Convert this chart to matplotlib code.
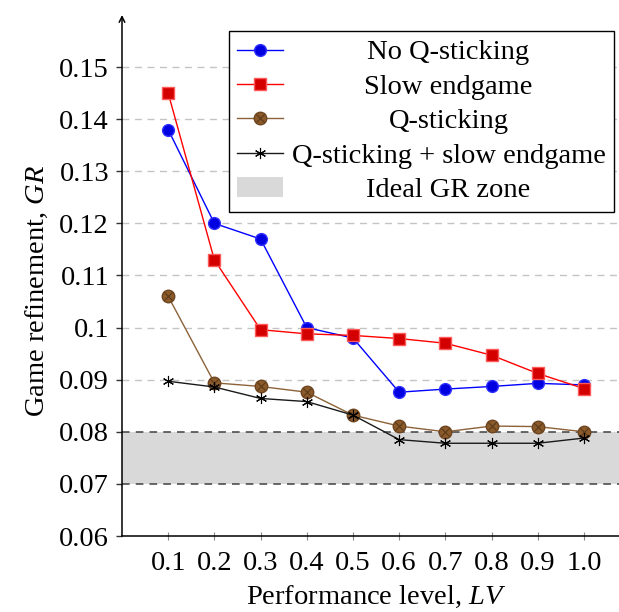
import matplotlib
matplotlib.use("Agg")
import matplotlib.pyplot as plt
from matplotlib.legend_handler import HandlerTuple
from matplotlib.patches import Patch

plt.rcParams['font.family'] = ['Liberation Serif', 'DejaVu Serif']
plt.rcParams['mathtext.fontset'] = 'custom'
plt.rcParams['mathtext.rm'] = 'Liberation Serif'
plt.rcParams['mathtext.it'] = 'Liberation Serif:italic'

# data
levels = [0.1, 0.2, 0.3, 0.4, 0.5, 0.6, 0.7, 0.8, 0.9, 1.0]
no_qstick = [0.138, 0.120, 0.117, 0.100, 0.098, 0.0876, 0.0882, 0.0887, 0.0893, 0.0890]
slow_end = [0.145, 0.113, 0.0996, 0.0988, 0.0985, 0.0979, 0.0970, 0.0947, 0.0912, 0.0883]
qstick = [0.106, 0.0894, 0.0887, 0.0876, 0.0832, 0.0811, 0.0800, 0.0811, 0.0810, 0.0800]
qstick_slow = [0.0897, 0.0886, 0.0864, 0.0858, 0.0832, 0.0785, 0.0778, 0.0778, 0.0778, 0.0788]
ideal_low, ideal_high = 0.07, 0.08

yticks = [0.06, 0.07, 0.08, 0.09, 0.10, 0.11, 0.12, 0.13, 0.14, 0.15]
ytick_labels = ['0.06', '0.07', '0.08', '0.09', '0.1', '0.11', '0.12', '0.13', '0.14', '0.15']
xtick_labels = ['0.1', '0.2', '0.3', '0.4', '0.5', '0.6', '0.7', '0.8', '0.9', '1.0']

fs = 20.5
W, H = 619, 612
fig = plt.figure(figsize=(W / 100, H / 100), dpi=100)
ax = fig.add_axes([122 / W, 76 / H, 497 / W, 521 / H])
ax.set_xlim(0, 1.076)
ax.set_ylim(0.06, 0.16)

# ideal zone band and grid
ax.axhspan(ideal_low, ideal_high, color='#d9d9d9', lw=0, zorder=0)
for y in yticks[3:]:
    ax.axhline(y, color='#c4c4c4', lw=1, ls=(0, (5, 4)), zorder=1)
for y in (ideal_low, ideal_high):
    ax.axhline(y, color='#404040', lw=1.1, ls=(0, (5, 4)), zorder=1)

blue, = ax.plot(levels, no_qstick, color='blue', lw=1, marker='o', ms=8.5,
                mfc='#0000e0', mec='#3030ff', zorder=3)
red, = ax.plot(levels, slow_end, color='red', lw=1, marker='s', ms=8,
               mfc='#d40000', mec='#ff5a5a', zorder=3)
brown, = ax.plot(levels, qstick, color='#8c6239', lw=1, marker='o', ms=9,
                 mfc='#8b5a2b', mec='#6e4520', zorder=3)
brown_x, = ax.plot(levels, qstick, ls='none', marker='x', ms=5.5,
                   mec='#5a3a18', mew=0.8, zorder=4)
black, = ax.plot(levels, qstick_slow, color='#1a1a1a', lw=1, marker=(6, 2, 0), ms=8,
                 mec='black', mew=0.8, zorder=5)

# axes styling
for s in ('top', 'right', 'left'):
    ax.spines[s].set_visible(False)
ax.spines['bottom'].set_linewidth(1.1)
ax.annotate('', xy=(0, 1), xytext=(0, 0), xycoords='axes fraction',
            arrowprops=dict(arrowstyle='->', lw=1.1, color='black',
                            shrinkA=0, shrinkB=0), annotation_clip=False)

ax.set_yticks(yticks)
ax.set_yticklabels(ytick_labels)
ax.set_xticks(levels)
ax.set_xticklabels(xtick_labels)
ax.tick_params(axis='y', direction='out', length=4.3, width=1, color='#333333',
               labelsize=fs, pad=5)
ax.tick_params(axis='x', direction='inout', length=6, width=0.8, color='#888888',
               labelsize=fs, pad=8)

ax.set_ylabel('Game refinement, $GR$', fontsize=fs)
ax.yaxis.set_label_coords(-0.145, 0.47)
ax.set_xlabel('Performance level, $LV$', fontsize=fs)
ax.xaxis.set_label_coords(0.511, -0.092)

leg_handles = [blue, red, (brown, brown_x), black,
               Patch(facecolor='#d9d9d9', edgecolor='none')]
leg_labels = ['No Q-sticking', 'Slow endgame', 'Q-sticking',
              'Q-sticking + slow endgame', 'Ideal GR zone']
leg = fig.legend(leg_handles, leg_labels, loc='upper right',
                 bbox_to_anchor=(614 / W, 1 - 31 / H), bbox_transform=fig.transFigure,
                 fontsize=fs, frameon=True, fancybox=False, framealpha=1,
                 edgecolor='black', handlelength=1.6, handletextpad=0.3,
                 labelspacing=0.3, borderpad=0.3, borderaxespad=0,
                 handler_map={tuple: HandlerTuple(ndivide=1, pad=0)})
leg.get_frame().set_linewidth(1)

# center the legend entries like the original
fig.canvas.draw()
r = fig.canvas.get_renderer()
texts = leg.get_texts()
widths = [t.get_window_extent(r).width for t in texts]
maxw = max(widths)
for t, w in zip(texts, widths):
    t.set_x((maxw - w) / 2)

fig.savefig('out.png', dpi=100)
